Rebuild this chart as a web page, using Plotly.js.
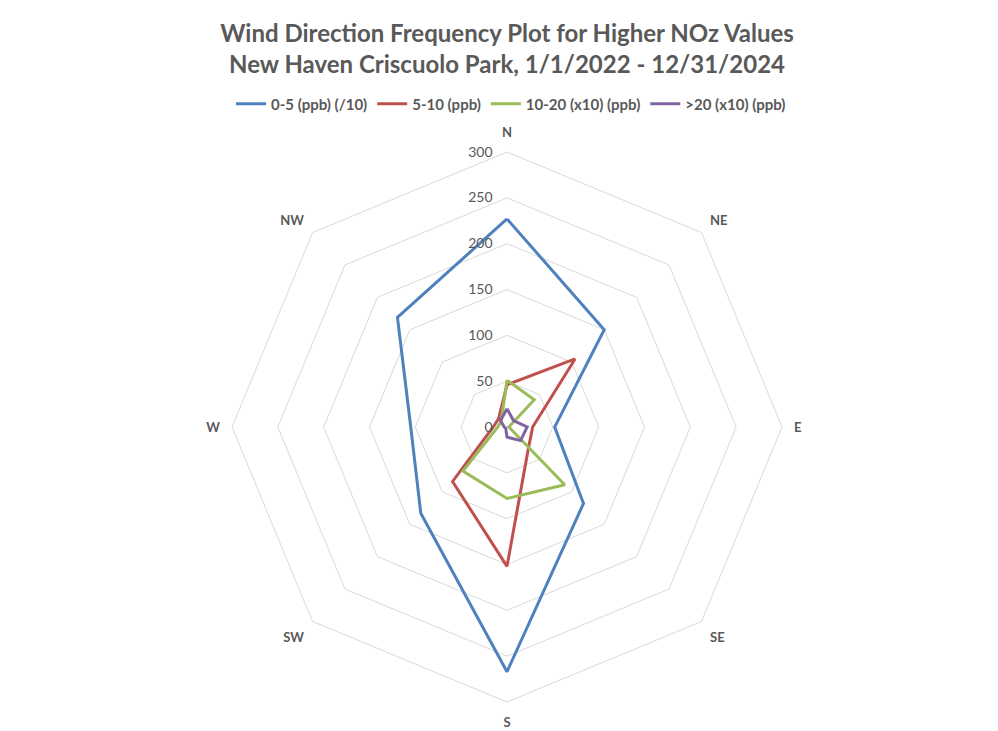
<!DOCTYPE html>
<html>
<head>
<meta charset="utf-8">
<script src="https://cdn.plot.ly/plotly-3.0.1.min.js"></script>
<style>
  html, body { margin: 0; padding: 0; background: #ffffff; }
  #chart { width: 998px; height: 731px; }
</style>
</head>
<body>
<div id="chart"></div>
<script>
// Wind directions (categories)
const directions = ['N', 'NE', 'E', 'SE', 'S', 'SW', 'W', 'NW'];

// Series names
const seriesNames = ['0-5 (ppb) (/10)', '5-10 (ppb)', '10-20 (x10) (ppb)', '>20 (x10) (ppb)'];

// Series values
const s0to5   = [227, 150, 52, 118, 267, 133, 105, 169];
const s5to10  = [46, 105, 28, 33, 152, 84, 15, 13];
const s10to20 = [51, 42, 2, 89, 78, 68, 10, 9];
const sOver20 = [20, 10, 22, 21, 11, 2, 3, 10];

// Radial ticks
const radialTicks = [0, 50, 100, 150, 200, 250, 300];

const colors = ['#4F81BD', '#C0504D', '#9BBB59', '#8064A2'];
const allSeries = [s0to5, s5to10, s10to20, sOver20];

const FONT = 'Lato, "Open Sans", "Liberation Sans", sans-serif';
const GREY = '#595959';

const traces = allSeries.map((vals, i) => ({
  type: 'scatterpolar',
  mode: 'lines',
  name: seriesNames[i],
  r: vals.concat([vals[0]]),
  theta: directions.concat([directions[0]]),
  line: { color: colors[i], width: 3 },
  hoverinfo: 'skip'
}));

// geometry: centre (507, 427), radius 275 px
const W = 998, H = 731, cx = 507, cy = 427, R = 275;

const layout = {
  width: W,
  height: H,
  margin: { l: 0, r: 0, t: 0, b: 0 },
  paper_bgcolor: '#ffffff',
  plot_bgcolor: '#ffffff',
  font: { family: FONT, color: GREY },
  title: {
    text: 'Wind Direction Frequency Plot for Higher NOz Values<br>New Haven Criscuolo Park, 1/1/2022 - 12/31/2024',
    font: { family: FONT, size: 24, color: GREY, weight: 'bold' },
    x: cx / W,
    xanchor: 'center',
    xref: 'paper',
    y: 1 - 42 / H,
    yanchor: 'top',
    yref: 'container'
  },
  showlegend: true,
  legend: {
    orientation: 'h',
    x: 511 / W,
    xanchor: 'center',
    y: 1 - 104 / H,
    yanchor: 'middle',
    font: { family: FONT, size: 15, color: GREY, weight: 'bold' },
    itemwidth: 30,
    bgcolor: 'rgba(0,0,0,0)',
    traceorder: 'normal'
  },
  polar: {
    domain: {
      x: [(cx - R) / W, (cx + R) / W],
      y: [(H - cy - R) / H, (H - cy + R) / H]
    },
    gridshape: 'linear',
    bgcolor: '#ffffff',
    angularaxis: {
      type: 'category',
      categoryorder: 'array',
      categoryarray: directions,
      direction: 'clockwise',
      rotation: 90,
      showgrid: false,
      showline: true,
      linecolor: '#d9d9d9',
      linewidth: 1,
      ticks: 'outside',
      ticklen: 9,
      tickcolor: 'rgba(0,0,0,0)',
      tickfont: { family: FONT, size: 13, color: GREY, weight: 'bold' }
    },
    radialaxis: {
      range: [0, 300],
      tickvals: radialTicks,
      ticktext: radialTicks.map(String),
      angle: 90,
      tickangle: 90,
      side: 'counterclockwise',
      showline: false,
      ticks: 'outside',
      ticklen: 9,
      tickcolor: 'rgba(0,0,0,0)',
      showgrid: true,
      gridcolor: '#d9d9d9',
      gridwidth: 1,
      tickfont: { family: FONT, size: 14, color: GREY }
    }
  }
};

Plotly.newPlot('chart', traces, layout, { displayModeBar: false, staticPlot: true });
</script>
</body>
</html>
